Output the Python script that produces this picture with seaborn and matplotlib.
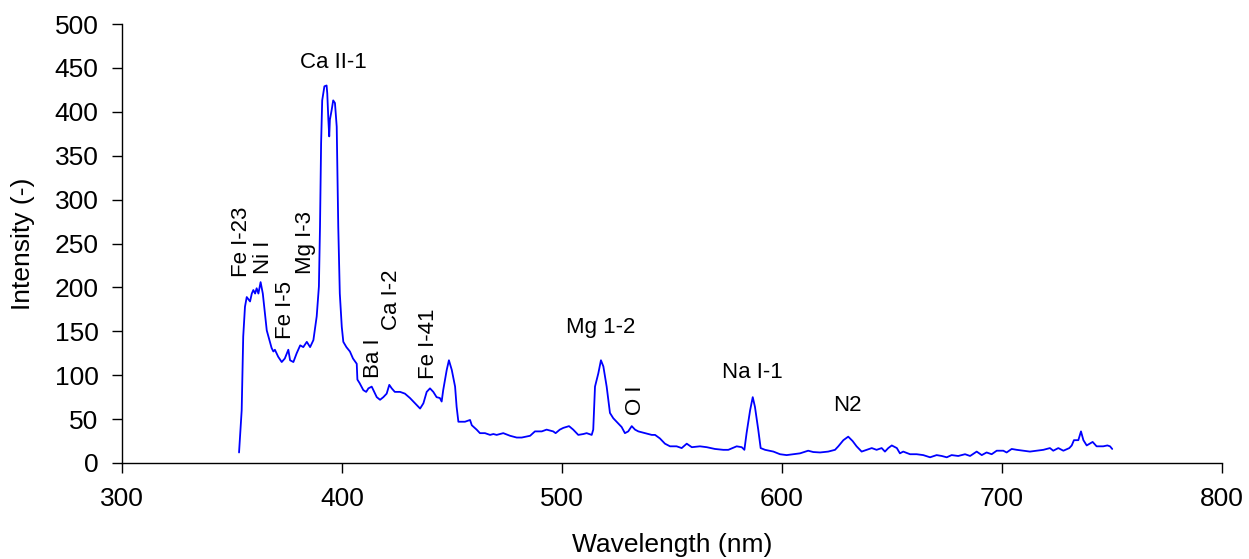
import numpy as np
import pandas as pd
import matplotlib
matplotlib.use("Agg")
import matplotlib.pyplot as plt
import seaborn as sns

wavelength = [
    353.2, 354.4, 355.1, 355.9, 356.7, 358.2, 359.0, 359.7, 360.5, 361.2,
    362.0, 363.0, 364.0, 365.0, 365.8, 367.0, 368.0, 368.8, 369.5, 371.0,
    372.6, 374.0, 375.6, 376.4, 377.9, 379.4, 381.0, 382.4, 384.0, 385.5,
    387.0, 388.5, 389.5, 390.0, 390.5, 391.0, 392.0, 393.0, 393.3, 393.8,
    394.2, 394.5, 395.3, 396.0, 396.8, 397.6, 398.3, 399.0, 399.9, 400.6,
    402.0, 403.6, 405.0, 406.7, 407.0, 408.0, 409.7, 411.0, 412.0, 413.5,
    415.0, 415.8, 417.3, 418.8, 420.3, 421.5, 422.6, 424.0, 426.4, 428.6,
    430.9, 433.2, 435.5, 437.0, 438.5, 440.0, 441.5, 443.0, 444.5, 445.3,
    446.0, 447.6, 448.6, 449.9, 451.4, 452.1, 452.9, 454.4, 455.9, 458.2,
    459.0, 461.2, 462.7, 465.0, 467.3, 468.8, 470.3, 473.3, 476.4, 479.4,
    481.7, 485.5, 487.7, 490.8, 493.0, 496.0, 497.1, 499.0, 500.6, 503.2,
    505.1, 507.4, 509.7, 511.2, 513.5, 514.2, 515.0, 516.5, 517.7, 518.8,
    520.3, 521.8, 523.3, 525.6, 527.1, 528.6, 530.1, 531.7, 533.2, 534.7,
    537.7, 540.8, 542.3, 544.5, 546.8, 549.1, 552.1, 554.4, 556.7, 559.0,
    562.7, 565.8, 569.5, 573.3, 575.6, 579.4, 581.7, 582.9, 583.9, 585.5,
    586.7, 587.7, 589.2, 590.3, 592.3, 596.1, 599.1, 602.1, 605.1, 608.2,
    611.9, 614.2, 617.3, 621.0, 624.1, 625.6, 627.9, 630.1, 632.1, 633.9,
    636.2, 638.5, 640.8, 643.0, 645.3, 646.8, 648.3, 649.9, 652.2, 653.6,
    655.1, 658.2, 661.2, 664.2, 667.3, 670.3, 672.6, 674.9, 677.1, 680.1,
    683.2, 685.5, 688.5, 690.8, 693.0, 695.3, 697.6, 700.6, 702.1, 704.4,
    706.7, 709.7, 712.7, 715.8, 718.8, 721.8, 723.3, 725.6, 727.9, 730.6,
    731.7, 732.7, 734.7, 735.9, 737.0, 738.5, 741.2, 743.0, 746.0, 747.9,
    749.1, 750.1,
]
intensity = [
    12, 60, 144, 178, 189, 184, 193, 197, 193, 199,
    193, 206, 193, 170, 151, 140, 131, 127, 129, 121,
    115, 119, 129, 117, 115, 125, 134, 132, 138, 132,
    140, 167, 201, 269, 364, 413, 429, 430, 421, 391,
    372, 391, 402, 413, 410, 383, 269, 193, 155, 138,
    132, 127, 119, 113, 95, 91, 83, 81, 85, 87,
    79, 75, 72, 75, 79, 89, 85, 81, 81, 79,
    74, 68, 62, 68, 81, 85, 81, 75, 74, 70,
    83, 106, 117, 106, 87, 64, 47, 47, 47, 49,
    43, 38, 34, 34, 32, 33, 32, 34, 31, 29,
    29, 31, 36, 36, 38, 36, 34, 38, 40, 42,
    38, 32, 33, 34, 32, 38, 87, 102, 117, 110,
    87, 57, 51, 45, 41, 34, 36, 42, 38, 36,
    34, 32, 32, 28, 22, 19, 19, 17, 22, 18,
    19, 18, 16, 15, 15, 19, 18, 15, 34, 60,
    75, 64, 38, 17, 15, 13, 10, 9, 10, 11,
    14, 12.5, 12, 13, 15, 19, 26, 30, 25, 19,
    13, 15, 17, 15, 17, 13, 17, 20, 17, 11,
    13, 10, 10, 9, 6.5, 9, 8, 6.5, 9, 8,
    10, 8, 13, 9, 12, 10, 14, 14, 12, 16,
    15, 14, 13, 14, 15, 17, 14, 17, 14, 17,
    20, 26, 26, 36, 26, 20, 24, 19, 19, 20,
    19, 16,
]

label_text = ["Ca II-1", "Fe I-23", "Ni I", "Fe I-5", "Mg I-3", "Ba I",
              "Ca I-2", "Fe I-41", "Mg 1-2", "O I", "Na I-1", "N2"]
label_x = [395.9, 354.1, 364.5, 374.5, 383.2, 414.1, 422.3, 439.1, 517.7, 533.6, 586.4, 629.5]
label_y = [456.7, 252, 234.6, 174, 250.6, 119.6, 185.6, 135.5, 153.8, 71.8, 103.6, 66]
label_rot = [0, 90, 90, 90, 90, 90, 90, 90, 0, 90, 0, 0]

x_ticks = [300, 400, 500, 600, 700, 800]
y_ticks = [0, 50, 100, 150, 200, 250, 300, 350, 400, 450, 500]

sns.set_style("ticks")
plt.rcParams['font.family'] = ['Liberation Sans', 'DejaVu Sans']
plt.rcParams['text.color'] = 'black'
plt.rcParams['axes.labelcolor'] = 'black'
plt.rcParams['xtick.color'] = 'black'
plt.rcParams['ytick.color'] = 'black'

df = pd.DataFrame({"Wavelength (nm)": wavelength, "Intensity (-)": intensity})

fig = plt.figure(figsize=(12.49, 5.59), dpi=100)
ax = fig.add_axes([122 / 1249, 1 - 463 / 559, 1100 / 1249, 439 / 559])

sns.lineplot(data=df, x="Wavelength (nm)", y="Intensity (-)", ax=ax,
             color="#0000ff", linewidth=1.3, sort=False, estimator=None)

for t, x, y, r in zip(label_text, label_x, label_y, label_rot):
    ax.text(x, y, t, rotation=r, ha="center", va="center", fontsize=16,
            color="black", rotation_mode="anchor")

ax.set_xlim(300, 800)
ax.set_ylim(0, 500)
ax.set_xticks(x_ticks)
ax.set_yticks(y_ticks)
ax.tick_params(axis="both", labelsize=19, length=7, width=1,
               direction="out", pad=10, labelcolor="black")
sns.despine(ax=ax)
for s in ["left", "bottom"]:
    ax.spines[s].set_color("black")
    ax.spines[s].set_linewidth(1.0)
ax.set_xlabel("Wavelength (nm)", fontsize=19, labelpad=16)
ax.set_ylabel("Intensity (-)", fontsize=19, labelpad=14)

fig.savefig("out.png", dpi=100)
